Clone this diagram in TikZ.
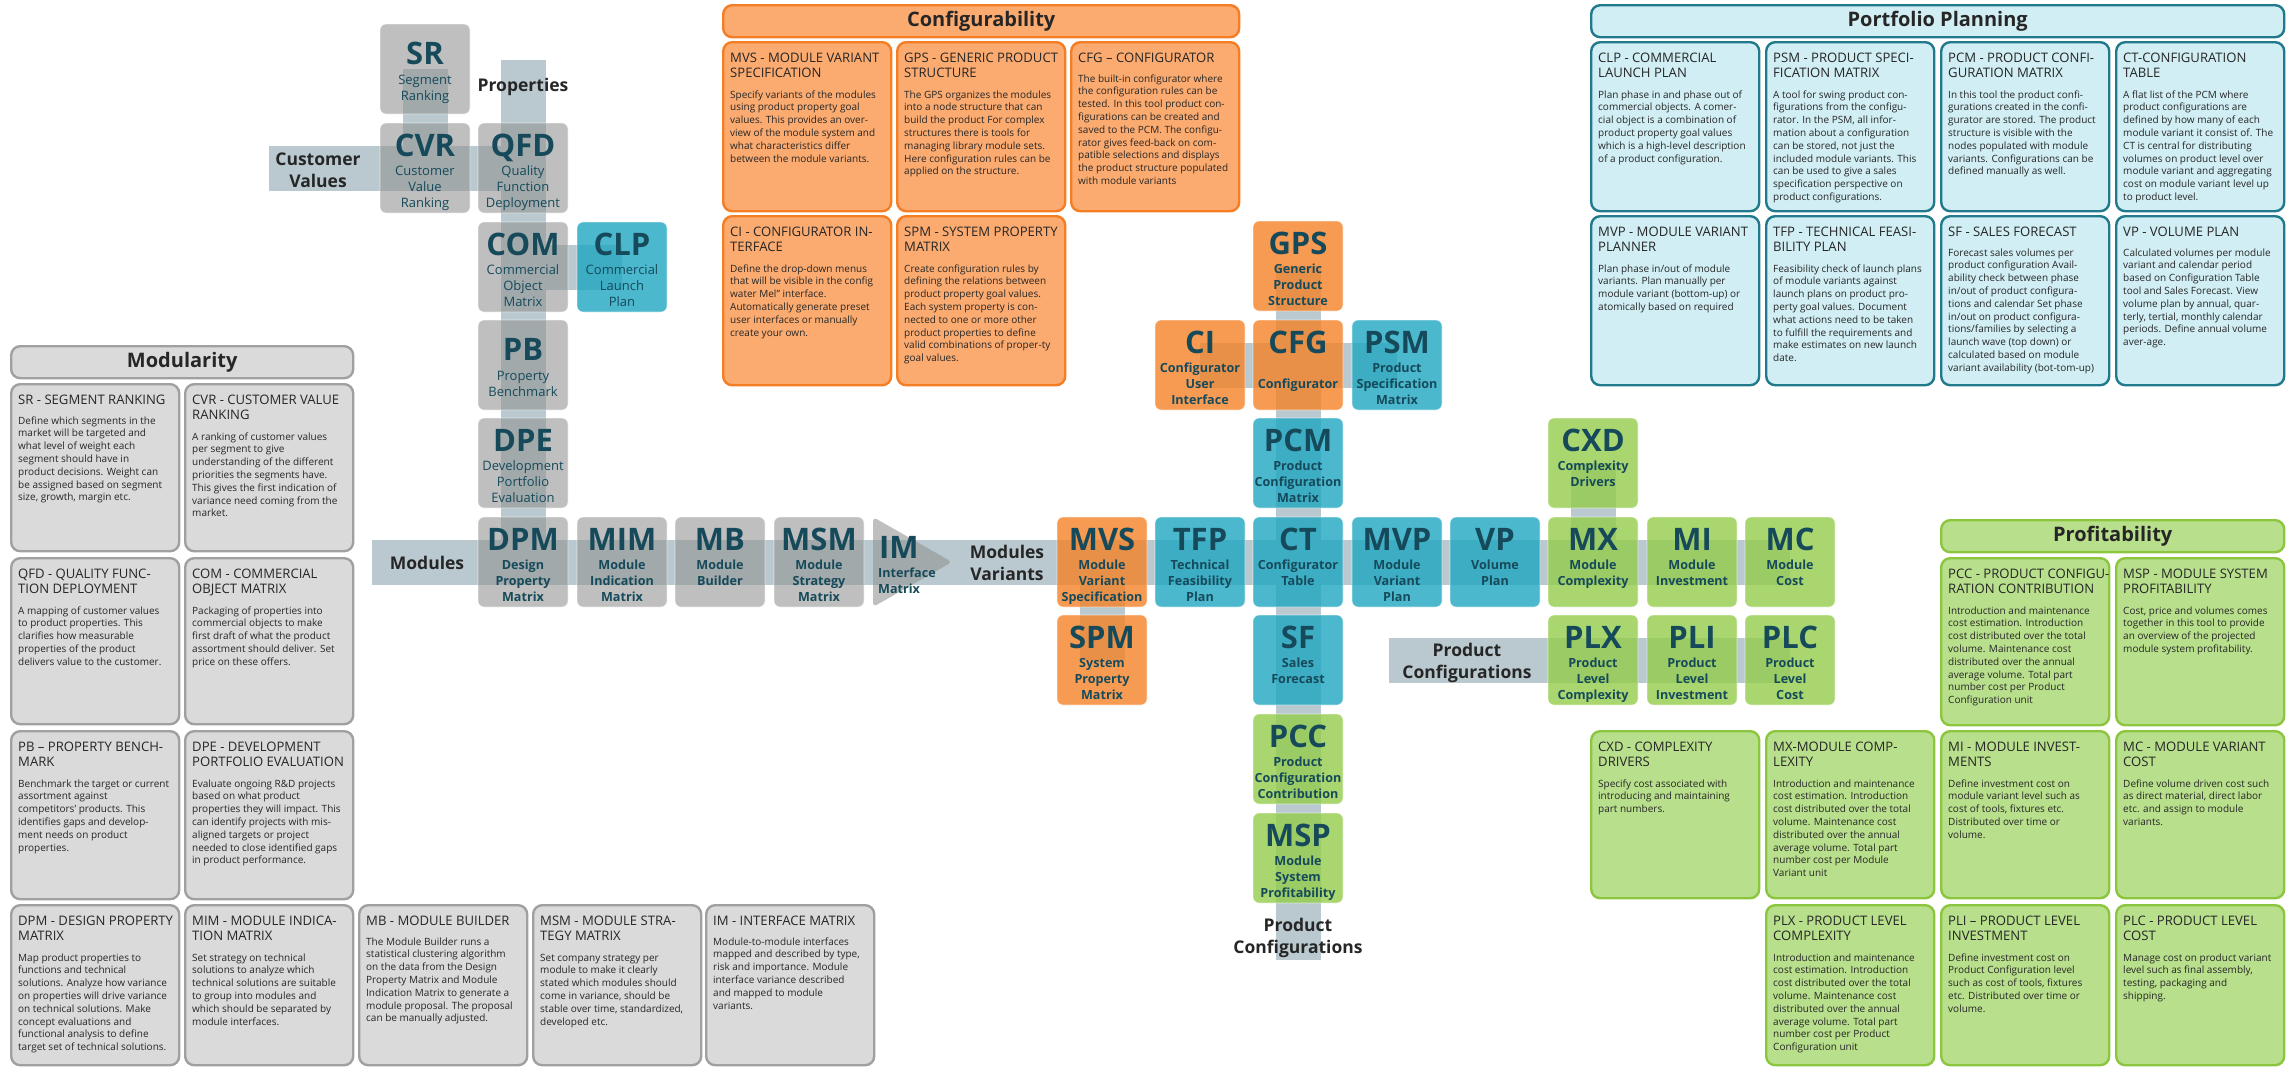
\documentclass[tikz,border=0pt]{standalone}
\usepackage{fontspec}
\setmainfont{Open Sans}
\usetikzlibrary{backgrounds}
\definecolor{band}{RGB}{185,201,207}
\definecolor{ngray}{RGB}{148,148,148}
\definecolor{norange}{RGB}{246,130,39}
\definecolor{ncyan}{RGB}{30,166,194}
\definecolor{ngreen}{RGB}{147,204,74}
\definecolor{tl}{RGB}{22,74,90}
\definecolor{ptext}{RGB}{38,38,38}
\definecolor{pgrayF}{RGB}{218,218,218}
\definecolor{pgrayD}{RGB}{160,160,160}
\definecolor{porF}{RGB}{251,171,112}
\definecolor{porD}{RGB}{245,125,35}
\definecolor{ptlF}{RGB}{208,238,244}
\definecolor{ptlD}{RGB}{33,122,140}
\definecolor{pgrF}{RGB}{184,223,140}
\definecolor{pgrD}{RGB}{140,198,63}
\newcommand\fBig{\fontsize{31}{31}\selectfont\bfseries}
\newcommand\fSub{\fontsize{13}{15.7}\selectfont}
\newcommand\fSubB{\fontsize{12.6}{15.8}\selectfont\bfseries}
\newcommand\fTtl{\fontsize{13.1}{15.7}\selectfont}
\newcommand\fBdy{\fontsize{10}{12.8}\selectfont}
\newcommand\fHdr{\fontsize{20}{24}\selectfont\bfseries}
\newcommand\fBand{\fontsize{17.5}{22.5}\selectfont\bfseries}
% node: name, box style, sub style, cx, cy, label, lines, extra down
\newcommand\tnd[8]{%
  \node[nbox,#2] (#1) at (#4,#5) {};
  \node[lblT] (#1L) at ([yshift=-33.5pt-#8pt]#1.north) {#6};
  \node[subT,#3] (#1S) at ([yshift=-41pt-#8pt]#1.north) {\rule{0pt}{12pt}#7};
}
% panel: name, style, x, y, h, body offset, title, body
\newcommand\pnl[8]{%
  \node[pbx,#2,minimum height=#5pt,anchor=north west] (#1) at (#3,#4) {};
  \node[ttl] (#1t) at ([xshift=8pt,yshift=-8.8pt]#1.north west) {\rule{0pt}{12pt}#7};
  \node[bdy] (#1b) at ([xshift=8pt,yshift=-#6pt+9pt]#1.north west) {\rule{0pt}{9pt}#8};
}
\begin{document}
\begin{tikzpicture}[x=1pt,y=-1pt,
  nbox/.style={rounded corners=6pt,minimum width=90pt,minimum height=90pt,inner sep=0pt,draw=white,draw opacity=0.6,line width=0.8pt},
  ng/.style={fill=ngray,fill opacity=0.6},
  no/.style={fill=norange,fill opacity=0.8},
  nc/.style={fill=ncyan,fill opacity=0.8},
  ngr/.style={fill=ngreen,fill opacity=0.8},
  lblT/.style={anchor=base,font=\fBig,text=tl,inner sep=0pt},
  subT/.style={anchor=north,align=center,font=\fSub,text=tl,inner sep=0pt},
  subB/.style={font=\fSubB},
  bandline/.style={draw=band,line width=45pt},
  pbx/.style={rounded corners=9pt,line width=2.4pt,minimum width=168pt,inner sep=0pt},
  pgray/.style={fill=pgrayF,draw=pgrayD},
  por/.style={fill=porF,draw=porD},
  ptl/.style={fill=ptlF,draw=ptlD},
  pgr/.style={fill=pgrF,draw=pgrD},
  ttl/.style={anchor=north west,align=left,font=\fTtl,text=ptext,inner sep=0pt},
  bdy/.style={anchor=north west,align=left,font=\fBdy,text=ptext,inner sep=0pt},
  hdr/.style={rounded corners=9pt,line width=2.4pt,minimum height=32pt,font=\fHdr,text=ptext,anchor=north west,inner sep=0pt},
  bandtxt/.style={align=center,font=\fBand,text=ptext,inner sep=0pt}]
\useasboundingbox (0,0) rectangle (2289,1069);

% ---------- headers ----------
\node[hdr,pgray,minimum width=342pt] (hMod) at (10,345) {Modularity};
\node[hdr,por,minimum width=516pt] (hCfg) at (722,4) {Configurability};
\node[hdr,ptl,minimum width=693pt] (hPort) at (1590,4) {Portfolio Planning};
\node[hdr,pgr,minimum width=343pt] (hProf) at (1940,519) {Profitability};

% ---------- Modularity panels ----------
\pnl{tSR}{pgray}{10}{383}{167}{40.8}{SR - SEGMENT RANKING}{Define which segments in the\\market will be targeted and\\what level of weight each\\segment should have in\\product decisions. Weight can\\be assigned based on segment\\size, growth, margin etc.}
\pnl{tCVR}{pgray}{184}{383}{167}{56.8}{CVR - CUSTOMER VALUE\\RANKING}{A ranking of customer values\\per segment to give\\understanding of the different\\priorities the segments have.\\This gives the first indication of\\variance need coming from the\\market.}
\pnl{tQFD}{pgray}{10}{557}{166}{56.8}{QFD - QUALITY FUNC-\\TION DEPLOYMENT}{A mapping of customer values\\to product properties. This\\clarifies how measurable\\properties of the product\\delivers value to the customer.}
\pnl{tCOM}{pgray}{184}{557}{166}{56.8}{COM - COMMERCIAL\\OBJECT MATRIX}{Packaging of properties into\\commercial objects to make\\first draft of what the product\\assortment should deliver. Set\\price on these offers.}
\pnl{tPB}{pgray}{10}{730}{168}{56.8}{PB – PROPERTY BENCH-\\MARK}{Benchmark the target or current\\assortment against\\competitors’ products. This\\identifies gaps and develop-\\ment needs on product\\properties.}
\pnl{tDPE}{pgray}{184}{730}{168}{56.8}{DPE - DEVELOPMENT\\PORTFOLIO EVALUATION}{Evaluate ongoing R\&D projects\\based on what product\\properties they will impact. This\\can identify projects with mis-\\aligned targets or project\\needed to close identified gaps\\in product performance.}
\pnl{tDPM}{pgray}{10}{904}{160}{56.8}{DPM - DESIGN PROPERTY\\MATRIX}{Map product properties to\\functions and technical\\solutions. Analyze how variance\\on properties will drive variance\\on technical solutions. Make\\concept evaluations and\\functional analysis to define\\target set of technical solutions.}
\pnl{tMIM}{pgray}{184}{904}{160}{56.8}{MIM - MODULE INDICA-\\TION MATRIX}{Set strategy on technical\\solutions to analyze which\\technical solutions are suitable\\to group into modules and\\which should be separated by\\module interfaces.}
\pnl{tMB}{pgray}{358}{904}{160}{40.8}{MB - MODULE BUILDER}{The Module Builder runs a\\statistical clustering algorithm\\on the data from the Design\\Property Matrix and Module\\Indication Matrix to generate a\\module proposal. The proposal\\can be manually adjusted.}
\pnl{tMSM}{pgray}{532}{904}{160}{56.8}{MSM - MODULE STRA-\\TEGY MATRIX}{Set company strategy per\\module to make it clearly\\stated which modules should\\come in variance, should be\\stable over time, standardized,\\developed etc.}
\pnl{tIM}{pgray}{705}{904}{160}{40.8}{IM - INTERFACE MATRIX}{Module-to-module interfaces\\mapped and described by type,\\risk and importance. Module\\interface variance described\\and mapped to module\\variants.}

% ---------- Configurability panels ----------
\pnl{tMVS}{por}{722}{41}{169}{56.8}{MVS - MODULE VARIANT\\SPECIFICATION}{Specify variants of the modules\\using product property goal\\values. This provides an over-\\view of the module system and\\what characteristics differ\\between the module variants.}
\pnl{tGPS}{por}{896}{41}{169}{56.8}{GPS - GENERIC PRODUCT\\STRUCTURE}{The GPS organizes the modules\\into a node structure that can\\build the product For complex\\structures there is tools for\\managing library module sets.\\Here configuration rules can be\\applied on the structure.}
\pnl{tCFG}{por}{1070}{41}{169}{40.8}{CFG – CONFIGURATOR}{The built-in configurator where\\the configuration rules can be\\tested. In this tool product con-\\figurations can be created and\\saved to the PCM. The configu-\\rator gives feed-back on com-\\patible selections and displays\\the product structure populated\\with module variants}
\pnl{tCI}{por}{722}{215}{169}{56.8}{CI - CONFIGURATOR IN-\\TERFACE}{Define the drop-down menus\\that will be visible in the config\\water Mel” interface.\\Automatically generate preset\\user interfaces or manually\\create your own.}
\pnl{tSPM}{por}{896}{215}{169}{56.8}{SPM - SYSTEM PROPERTY\\MATRIX}{Create configuration rules by\\defining the relations between\\product property goal values.\\Each system property is con-\\nected to one or more other\\product properties to define\\valid combinations of proper-ty\\goal values.}

% ---------- Portfolio Planning panels ----------
\pnl{tCLP}{ptl}{1590}{41}{169}{56.8}{CLP - COMMERCIAL\\LAUNCH PLAN}{Plan phase in and phase out of\\commercial objects. A comer-\\cial object is a combination of\\product property goal values\\which is a high-level description\\of a product configuration.}
\pnl{tPSM}{ptl}{1765}{41}{169}{56.8}{PSM - PRODUCT SPECI-\\FICATION MATRIX}{A tool for swing product con-\\figurations from the configu-\\rator. In the PSM, all infor-\\mation about a configuration\\can be stored, not just the\\included module variants. This\\can be used to give a sales\\specification perspective on\\product configurations.}
\pnl{tPCM}{ptl}{1940}{41}{169}{56.8}{PCM - PRODUCT CONFI-\\GURATION MATRIX}{In this tool the product confi-\\gurations created in the confi-\\gurator are stored. The product\\structure is visible with the\\nodes populated with module\\variants. Configurations can be\\defined manually as well.}
\pnl{tCT}{ptl}{2115}{41}{169}{56.8}{CT-CONFIGURATION\\TABLE}{A flat list of the PCM where\\product configurations are\\defined by how many of each\\module variant it consist of. The\\CT is central for distributing\\volumes on product level over\\module variant and aggregating\\cost on module variant level up\\to product level.}
\pnl{tMVP}{ptl}{1590}{215}{169}{56.8}{MVP - MODULE VARIANT\\PLANNER}{Plan phase in/out of module\\variants. Plan manually per\\module variant (bottom-up) or\\atomically based on required}
\pnl{tTFP}{ptl}{1765}{215}{169}{56.8}{TFP - TECHNICAL FEASI-\\BILITY PLAN}{Feasibility check of launch plans\\of module variants against\\launch plans on product pro-\\perty goal values. Document\\what actions need to be taken\\to fulfill the requirements and\\make estimates on new launch\\date.}
\pnl{tSF}{ptl}{1940}{215}{169}{40.8}{SF - SALES FORECAST}{Forecast sales volumes per\\product configuration Avail-\\ability check between phase\\in/out of product configura-\\tions and calendar Set phase\\in/out on product configura-\\tions/families by selecting a\\launch wave (top down) or\\calculated based on module\\variant availability (bot-tom-up)}
\pnl{tVP}{ptl}{2115}{215}{169}{40.8}{VP - VOLUME PLAN}{Calculated volumes per module\\variant and calendar period\\based on Configuration Table\\tool and Sales Forecast. View\\volume plan by annual, quar-\\terly, tertial, monthly calendar\\periods. Define annual volume\\aver-age.}

% ---------- Profitability panels ----------
\pnl{tPCC}{pgr}{1940}{557}{167}{56.8}{PCC - PRODUCT CONFIGU-\\RATION CONTRIBUTION}{Introduction and maintenance\\cost estimation. Introduction\\cost distributed over the total\\volume. Maintenance cost\\distributed over the annual\\average volume. Total part\\number cost per Product\\Configuration unit}
\pnl{tMSP}{pgr}{2115}{557}{167}{56.8}{MSP - MODULE SYSTEM\\PROFITABILITY}{Cost, price and volumes comes\\together in this tool to provide\\an overview of the projected\\module system profitability.}
\pnl{tCXD}{pgr}{1590}{730}{167}{56.8}{CXD - COMPLEXITY\\DRIVERS}{Specify cost associated with\\introducing and maintaining\\part numbers.}
\pnl{tMX}{pgr}{1765}{730}{167}{56.8}{MX-MODULE COMP-\\LEXITY}{Introduction and maintenance\\cost estimation. Introduction\\cost distributed over the total\\volume. Maintenance cost\\distributed over the annual\\average volume. Total part\\number cost per Module\\Variant unit}
\pnl{tMI}{pgr}{1940}{730}{167}{56.8}{MI - MODULE INVEST-\\MENTS}{Define investment cost on\\module variant level such as\\cost of tools, fixtures etc.\\Distributed over time or\\volume.}
\pnl{tMC}{pgr}{2115}{730}{167}{56.8}{MC - MODULE VARIANT\\COST}{Define volume driven cost such\\as direct material, direct labor\\etc. and assign to module\\variants.}
\pnl{tPLX}{pgr}{1765}{904}{160}{56.8}{PLX - PRODUCT LEVEL\\COMPLEXITY}{Introduction and maintenance\\cost estimation. Introduction\\cost distributed over the total\\volume. Maintenance cost\\distributed over the annual\\average volume. Total part\\number cost per Product\\Configuration unit}
\pnl{tPLI}{pgr}{1940}{904}{160}{56.8}{PLI – PRODUCT LEVEL\\INVESTMENT}{Define investment cost on\\Product Configuration level\\such as cost of tools, fixtures\\etc. Distributed over time or\\volume.}
\pnl{tPLC}{pgr}{2115}{904}{160}{56.8}{PLC - PRODUCT LEVEL\\COST}{Manage cost on product variant\\level such as final assembly,\\testing, packaging and\\shipping.}

% ---------- flow nodes (left) ----------
\tnd{sr}{ng}{}{425}{69}{SR}{Segment\\Ranking}{7.85}
\tnd{cvr}{ng}{}{425}{168}{CVR}{Customer\\Value\\Ranking}{0}
\tnd{qfd}{ng}{}{523}{168}{QFD}{Quality\\Function\\Deployment}{0}
\tnd{com}{ng}{}{523}{267}{COM}{Commercial\\Object\\Matrix}{0}
\tnd{clp}{nc}{}{622}{267}{CLP}{Commercial\\Launch\\Plan}{0}
\tnd{pb}{ng}{}{523}{365}{PB}{Property\\Benchmark}{7.85}
\tnd{dpe}{ng}{}{523}{463}{DPE}{Development\\Portfolio\\Evaluation}{0}
\tnd{dpm}{ng}{subB}{523}{562}{DPM}{Design\\Property\\Matrix}{0}
\tnd{mim}{ng}{subB}{622}{562}{MIM}{Module\\Indication\\Matrix}{0}
\tnd{mb}{ng}{subB}{720}{562}{MB}{Module\\Builder}{0}
\tnd{msm}{ng}{subB}{819}{562}{MSM}{Module\\Strategy\\Matrix}{0}
% IM arrow
\fill[ngray,fill opacity=0.6,rounded corners=4pt] (873,517) -- (952,562) -- (873,607) -- cycle;
\node[lblT,anchor=base west] (imL) at (879,558.5) {IM};
\node[subT,subB,align=left,anchor=north west] (imS) at (878,565) {\rule{0pt}{12pt}Interface\\Matrix};

% ---------- flow nodes (right) ----------
\tnd{mvs}{no}{subB}{1102}{562}{MVS}{Module\\Variant\\Specification}{0}
\tnd{spm}{no}{subB}{1102}{660}{SPM}{System\\Property\\Matrix}{0}
\tnd{tfp}{nc}{subB}{1200}{562}{TFP}{Technical\\Feasibility\\Plan}{0}
\tnd{ct}{nc}{subB}{1298}{562}{CT}{Configurator\\Table}{0}
\tnd{gps}{no}{subB}{1298}{266}{GPS}{Generic\\Product\\Structure}{0}
\tnd{ci}{no}{subB}{1200}{365}{CI}{Configurator\\User\\Interface}{0}
\tnd{cfg}{no}{subB,yshift=-15.8pt}{1298}{365}{CFG}{Configurator}{0}
\tnd{psm}{nc}{subB}{1397}{365}{PSM}{Product\\Specification\\Matrix}{0}
\tnd{pcm}{nc}{subB}{1298}{463}{PCM}{Product\\Configuration\\Matrix}{0}
\tnd{sf}{nc}{subB}{1298}{660}{SF}{Sales\\Forecast}{0}
\tnd{pcc}{ngr}{subB}{1298}{759}{PCC}{Product\\Configuration\\Contribution}{0}
\tnd{msp}{ngr}{subB}{1298}{858}{MSP}{Module\\System\\Profitability}{0}
\tnd{mvp}{nc}{subB}{1397}{562}{MVP}{Module\\Variant\\Plan}{0}
\tnd{vp}{nc}{subB}{1495}{562}{VP}{Volume\\Plan}{0}
\tnd{cxd}{ngr}{subB}{1593}{463}{CXD}{Complexity\\Drivers}{0}
\tnd{mx}{ngr}{subB}{1593}{562}{MX}{Module\\Complexity}{0}
\tnd{mi}{ngr}{subB}{1692}{562}{MI}{Module\\Investment}{0}
\tnd{mc}{ngr}{subB}{1790}{562}{MC}{Module\\Cost}{0}
\tnd{plx}{ngr}{subB}{1593}{660}{PLX}{Product\\Level\\Complexity}{0}
\tnd{pli}{ngr}{subB}{1692}{660}{PLI}{Product\\Level\\Investment}{0}
\tnd{plc}{ngr}{subB}{1790}{660}{PLC}{Product\\Level\\Cost}{0}

% ---------- band ends ----------
\coordinate (cvStart) at (269,168);
\coordinate (propTop) at (523,60);
\coordinate (modStart) at (372,562);
\coordinate (pcBottom) at (1298,960);
\coordinate (pcStart) at (1389,660);

% ---------- bands (connectors) ----------
\begin{scope}[on background layer]
\draw[bandline] (sr.center) -- (cvr.center);
\draw[bandline] (cvStart) -- (qfd.center);
\draw[bandline] (propTop) -- (dpm.center);
\draw[bandline] (com.center) -- (clp.center);
\draw[bandline] (modStart) -- (mc.center);
\draw[bandline] (mvs.center) -- (spm.center);
\draw[bandline] (ci.center) -- (psm.center);
\draw[bandline] (gps.center) -- (pcBottom);
\draw[bandline] (pcStart) -- (plc.center);
\draw[bandline] (cxd.center) -- (mx.center);
\end{scope}

% ---------- band labels ----------
\node[bandtxt] (lCV) at (318,170) {Customer\\Values};
\node[bandtxt] (lProp) at (523,87) {Properties};
\node[bandtxt] (lMod) at (427,563) {Modules};
\node[bandtxt] (lMV) at (1007,563) {Modules\\Variants};
\node[bandtxt] (lPC1) at (1467,663) {Product\\Configurations};
\node[bandtxt] (lPC2) at (1298,938) {Product\\Configurations};
\end{tikzpicture}
\end{document}
